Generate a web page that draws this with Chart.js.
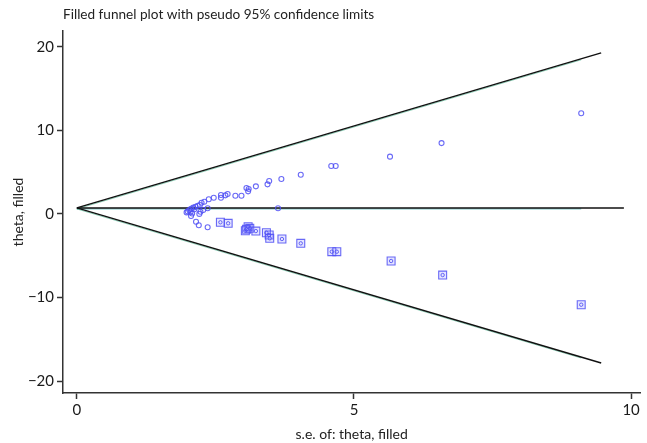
<!DOCTYPE html>
<html>
<head>
<meta charset="utf-8">
<script src="https://cdn.jsdelivr.net/npm/chart.js@4"></script>
<style>
  html, body { margin: 0; padding: 0; background: #fff; }
  #wrap { width: 647px; height: 443px; position: relative; }
</style>
</head>
<body>
<div id="wrap"><canvas id="funnel"></canvas></div>
<script>
// observed studies: standard error and effect
const obsSe = [9.10, 6.58, 5.65, 4.59, 4.67, 4.04, 3.69, 3.47, 3.44, 3.23, 3.06, 3.10, 3.09, 2.97, 2.86,
  2.72, 2.68, 2.60, 2.60, 2.47, 2.38, 2.30, 2.25, 2.22, 2.18, 2.14, 2.10, 2.06, 2.03, 2.00,
  1.98, 2.05, 2.12, 2.08, 2.06, 2.36, 2.28, 2.23, 2.21, 2.15, 2.20, 2.36, 3.63];
const obsTheta = [12.04, 8.47, 6.85, 5.73, 5.73, 4.69, 4.17, 3.93, 3.54, 3.30, 3.10, 2.98, 2.70, 2.18, 2.18,
  2.38, 2.22, 2.26, 1.94, 1.94, 1.75, 1.46, 1.34, 1.06, 0.98, 0.85, 0.75, 0.62, 0.45, 0.30,
  0.18, 0.20, 0.55, 0.05, -0.25, 0.67, 0.47, 0.26, 0.00, -0.93, -1.36, -1.60, 0.67];

// imputed (filled) studies
const fillSe = [2.59, 2.73, 3.09, 3.06, 3.04, 3.12, 3.23, 3.42, 3.47, 3.48, 3.70, 4.04, 4.60, 4.69, 5.67, 6.60, 9.10];
const fillTheta = [-1.00, -1.12, -1.53, -1.84, -2.01, -1.72, -2.05, -2.25, -2.52, -2.92, -3.00, -3.52, -4.52, -4.52, -5.63, -7.31, -10.86];

// pooled estimates and funnel extents
const pooledTheta = 0.72;
const funnelSeMax = 9.46;
const centerSeMax = 9.87;
const filledTheta = 0.60;
const filledSeMax = 9.10;
const z95 = 1.96;

const xTicks = [0, 5, 10];
const yTicks = [-20, -10, 0, 10, 20];

const FONT = "Lato, 'Open Sans', sans-serif";

const pts = (xs, ys) => xs.map((x, i) => ({ x: x, y: ys[i] }));
const seg = (t0, s1, k) => [{ x: 0, y: t0 }, { x: s1, y: t0 + k * z95 * s1 }];

const lineDs = (data, color, width, order) => ({
  type: "scatter",
  data: data,
  showLine: true,
  borderColor: color,
  borderWidth: width,
  pointRadius: 0,
  fill: false,
  order: order,
});

const markBlue = "rgba(80,80,245,0.85)";

const titlePlugin = {
  id: "plotTitle",
  afterDraw(chart) {
    const ctx = chart.ctx;
    ctx.save();
    ctx.fillStyle = "#222";
    ctx.font = "13.6px " + FONT;
    ctx.textBaseline = "middle";
    ctx.fillText("Filled funnel plot with pseudo 95% confidence limits", 63, 15);
    ctx.restore();
  },
};

new Chart(document.getElementById("funnel"), {
  type: "scatter",
  data: {
    datasets: [
      {
        data: pts(obsSe, obsTheta),
        pointStyle: "circle",
        pointRadius: 2.5,
        pointBorderWidth: 1.1,
        borderColor: markBlue,
        backgroundColor: "rgba(0,0,0,0)",
        order: 1,
      },
      {
        data: pts(fillSe, fillTheta),
        pointStyle: "rect",
        pointRadius: 5.6,
        pointBorderWidth: 1.1,
        borderColor: markBlue,
        backgroundColor: "rgba(150,150,255,0.25)",
        order: 2,
      },
      {
        data: pts(fillSe, fillTheta),
        pointStyle: "circle",
        pointRadius: 1.7,
        pointBorderWidth: 1,
        borderColor: markBlue,
        backgroundColor: "rgba(0,0,0,0)",
        order: 1,
      },
      lineDs(seg(filledTheta, filledSeMax, 1), "rgba(60,170,130,0.6)", 1, 6),
      lineDs(seg(filledTheta, filledSeMax, -1), "rgba(60,170,130,0.6)", 1, 6),
      lineDs([{ x: 0, y: filledTheta }, { x: filledSeMax, y: filledTheta }], "rgba(60,170,170,0.8)", 1, 6),
      lineDs(seg(pooledTheta, funnelSeMax, 1), "#111", 1.5, 5),
      lineDs(seg(pooledTheta, funnelSeMax, -1), "#111", 1.5, 5),
      lineDs([{ x: 0, y: pooledTheta }, { x: centerSeMax, y: pooledTheta }], "#111", 1.5, 5),
    ],
  },
  options: {
    responsive: true,
    maintainAspectRatio: false,
    animation: false,
    layout: { padding: { top: 31, right: 0, left: 0, bottom: 0 } },
    plugins: { legend: { display: false }, tooltip: { enabled: false }, title: { display: false } },
    scales: {
      x: {
        type: "linear",
        min: -0.25,
        max: 10.166,
        afterBuildTicks: (s) => { s.ticks = xTicks.map((v) => ({ value: v })); },
        afterFit: (s) => { s.height = 50; },
        border: { display: true, color: "#333", width: 1.5 },
        grid: { drawOnChartArea: false, drawTicks: true, tickLength: 6, color: "#333", tickWidth: 1.5 },
        ticks: { color: "#1a1a1a", font: { family: FONT, size: 15 }, padding: 2, maxRotation: 0 },
        title: {
          display: true,
          text: "s.e. of: theta, filled",
          color: "#222",
          font: { family: FONT, size: 14 },
          padding: { top: 0, bottom: 0 },
        },
      },
      y: {
        type: "linear",
        min: -21.42,
        max: 21.88,
        afterBuildTicks: (s) => { s.ticks = yTicks.map((v) => ({ value: v })); },
        afterFit: (s) => { s.width = 63; },
        border: { display: true, color: "#333", width: 1.5 },
        grid: { drawOnChartArea: false, drawTicks: true, tickLength: 6, color: "#333", tickWidth: 1.5 },
        ticks: {
          color: "#1a1a1a",
          font: { family: FONT, size: 15 },
          padding: 3,
          callback: (v) => String(v).replace("-", "\u2212"),
        },
        title: {
          display: true,
          text: "theta, filled",
          color: "#222",
          font: { family: FONT, size: 14 },
          padding: { top: 10, bottom: 0 },
        },
      },
    },
  },
  plugins: [titlePlugin],
});
</script>
</body>
</html>
